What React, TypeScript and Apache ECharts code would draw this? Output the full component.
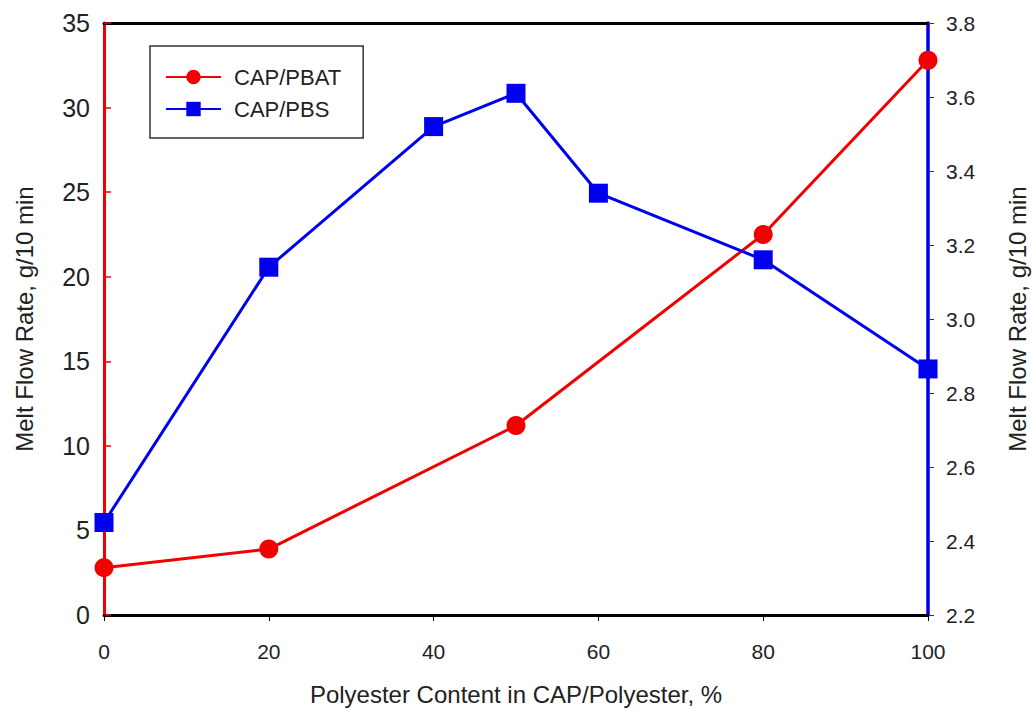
import React, { useEffect, useRef } from "react";
import * as echarts from "echarts";

const xTicks = [0, 20, 40, 60, 80, 100];
const pbatX = [0, 20, 50, 80, 100];
const pbatY = [2.8, 3.9, 11.2, 22.5, 32.8];
const pbsX = [0, 20, 40, 50, 60, 80, 100];
const pbsY = [2.45, 3.14, 3.52, 3.61, 3.34, 3.16, 2.865];
const seriesNames = ["CAP/PBAT", "CAP/PBS"];
const xTitle = "Polyester Content in CAP/Polyester, %";
const yTitle = "Melt Flow Rate, g/10 min";

const FONT = "'Liberation Sans', Arial, sans-serif";
const RED = "#f20000";
const BLUE = "#0000ee";
const TXT = "#222222";

export default function App() {
  const ref = useRef<HTMLDivElement>(null);
  useEffect(() => {
    if (!ref.current) return;
    const chart = echarts.init(ref.current, undefined, { renderer: "svg" });
    chart.setOption({
      animation: false,
      backgroundColor: "#ffffff",
      textStyle: { fontFamily: FONT },
      grid: {
        left: 104,
        right: 104,
        top: 23,
        bottom: 94,
        containLabel: false,
        outerBoundsMode: "none",
      },
      legend: {
        orient: "vertical",
        left: 150,
        top: 46,
        data: seriesNames,
        itemWidth: 55,
        itemHeight: 18,
        itemGap: 10,
        padding: [20, 22, 18, 15],
        borderColor: "#333333",
        borderWidth: 1.5,
        textStyle: { fontFamily: FONT, fontSize: 22, color: TXT, padding: [0, 0, 0, 8] },
      },
      xAxis: [
        {
          type: "value",
          min: xTicks[0],
          max: xTicks[xTicks.length - 1],
          interval: 20,
          position: "bottom",
          name: xTitle,
          nameLocation: "middle",
          nameGap: 67,
          nameTextStyle: { fontFamily: FONT, fontSize: 24, color: TXT, lineHeight: 24 },
          axisLine: { show: true, onZero: false, lineStyle: { color: "#000", width: 3 } },
          axisTick: { show: true, inside: false, length: 6, lineStyle: { color: "#000", width: 1 } },
          axisLabel: { fontFamily: FONT, fontSize: 21, color: TXT, margin: 26 },
          splitLine: { show: false },
        },
        {
          type: "value",
          min: 0,
          max: 100,
          position: "top",
          axisLine: { show: true, onZero: false, lineStyle: { color: "#000", width: 3 } },
          axisTick: { show: false },
          axisLabel: { show: false },
          splitLine: { show: false },
        },
      ],
      yAxis: [
        {
          type: "value",
          min: 0,
          max: 35,
          interval: 5,
          position: "left",
          name: yTitle,
          nameLocation: "middle",
          nameRotate: 90,
          nameGap: 68,
          nameTextStyle: { fontFamily: FONT, fontSize: 24, color: TXT, lineHeight: 24 },
          axisLine: { show: true, onZero: false, lineStyle: { color: RED, width: 3 } },
          axisTick: { show: true, inside: true, length: 7, lineStyle: { color: RED, width: 1.5 } },
          axisLabel: { fontFamily: FONT, fontSize: 25, color: TXT, margin: 14 },
          splitLine: { show: false },
        },
        {
          type: "value",
          min: 2.2,
          max: 3.8,
          interval: 0.2,
          position: "right",
          name: yTitle,
          nameLocation: "middle",
          nameRotate: 90,
          nameGap: 77,
          nameTextStyle: { fontFamily: FONT, fontSize: 24, color: TXT, lineHeight: 24 },
          axisLine: { show: true, onZero: false, lineStyle: { color: BLUE, width: 3.5 } },
          axisTick: { show: true, inside: false, length: 6, lineStyle: { color: "#333", width: 1 } },
          axisLabel: {
            fontFamily: FONT,
            fontSize: 21,
            color: TXT,
            margin: 18,
            formatter: (v: number) => v.toFixed(1),
          },
          splitLine: { show: false },
        },
      ],
      series: [
        {
          name: seriesNames[0],
          type: "line",
          xAxisIndex: 0,
          yAxisIndex: 0,
          data: pbatX.map((x, i) => [x, pbatY[i]]),
          symbol: "circle",
          symbolSize: 19,
          lineStyle: { color: RED, width: 3 },
          itemStyle: { color: RED },
        },
        {
          name: seriesNames[1],
          type: "line",
          xAxisIndex: 0,
          yAxisIndex: 1,
          data: pbsX.map((x, i) => [x, pbsY[i]]),
          symbol: "rect",
          symbolSize: 19,
          lineStyle: { color: BLUE, width: 3 },
          itemStyle: { color: BLUE },
        },
      ],
    });
    return () => chart.dispose();
  }, []);
  return (
    <div
      ref={ref}
      style={{ position: "fixed", left: 0, top: 0, width: 1032, height: 709, background: "#fff" }}
    />
  );
}
